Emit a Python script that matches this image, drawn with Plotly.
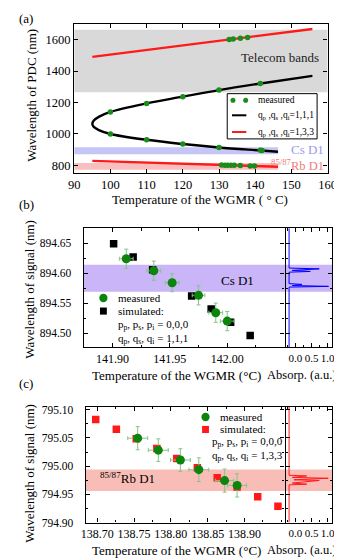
import plotly.graph_objects as go

W, H = 342, 558
FONT = "Liberation Serif"


def px(x):
    return x / W


def py(y):
    return 1 - y / H


# ---------------- Panel (a) data ----------------
curve_T = [146.3, 141.5, 130, 120, 110, 100, 96.8, 95.4, 95.0, 95.4, 96.9, 100, 110, 120, 130, 141.5, 155.8]
curve_wl = [887, 895, 914, 936, 963, 1000, 1025, 1045, 1063, 1085, 1110, 1140, 1194, 1237, 1279, 1321, 1369]
red_up_T = [95, 155.8]
red_up_wl = [1490, 1667]
red_lo_T = [95, 146.3]
red_lo_wl = [829, 792]
meas_a_T = [100, 100, 110, 110, 120, 120, 130, 130, 141.4, 141.4, 141.9,
            132.8, 133.9, 135.9, 137.9,
            130.7, 131.6, 132.4, 133.3, 134.2, 135.9, 138.6, 139.8]
meas_a_wl = [1140, 1000, 1194, 963, 1237, 936, 1279, 914, 1321, 896, 895,
             1600, 1603, 1608, 1613,
             803, 802, 802, 801, 801, 799, 797, 797]
a_xticks = [90, 100, 110, 120, 130, 140, 150, 160]
a_yticks = [800, 1000, 1200, 1400, 1600]
band_names = ["telecom", "cs", "rb"]
band_T0 = [90, 90, 90]
band_T1 = [160, 146.3, 146.3]
band_lo = [1265, 872, 773]
band_hi = [1662, 916, 816]
band_cols = ["#d9d9d9", "#c6c6f6", "#f9bebe"]

# ---------------- Panel (b) data ----------------
b_meas_T = [141.912, 141.936, 141.952, 141.975, 141.990, 142.000]
b_meas_wl = [894.624, 894.604, 894.584, 894.563, 894.534, 894.520]
b_err_T = [0.006, 0.006, 0.006, 0.0055, 0.006, 0.006]
b_err_wl = [0.016, 0.016, 0.015, 0.016, 0.016, 0.016]
b_sim_T = [141.901, 141.918, 141.935, 141.969, 141.986, 142.003, 142.020]
b_sim_wl = [894.649, 894.627, 894.6055, 894.562, 894.540, 894.518, 894.496]
b_xticks = [141.90, 141.95, 142.00]
b_yticks = [894.50, 894.55, 894.60, 894.65]
b_band = [894.569, 894.614]
b_abs_wl = [894.475, 894.5767, 894.5779, 894.5793, 894.5812, 894.5825,
            894.6016, 894.6028, 894.6045, 894.6071, 894.6084, 894.675]
b_abs_val = [-0.2, -0.2, 1.03, -0.1, 0.2, -0.2,
             -0.2, 0.46, -0.1, 0.74, -0.2, -0.2]

# ---------------- Panel (c) data ----------------
c_meas_T = [138.755, 138.783, 138.813, 138.838, 138.873, 138.890]
c_meas_wl = [795.0495, 795.0283, 795.0108, 794.9937, 794.9744, 794.9659]
c_err_T = [0.0135, 0.0135, 0.0135, 0.0135, 0.0125, 0.013]
c_err_wl = [0.0205, 0.020, 0.020, 0.021, 0.0205, 0.0205]
c_sim_T = [138.698, 138.726, 138.753, 138.781, 138.808, 138.836, 138.863, 138.890, 138.918, 138.9455]
c_sim_wl = [795.0824, 795.0654, 795.0483, 795.0312, 795.0137, 794.9971, 794.9795, 794.963, 794.9459, 794.9288]
c_xticks = [138.70, 138.75, 138.80, 138.85, 138.90]
c_yticks = [794.90, 794.95, 795.00, 795.05, 795.10]
c_band = [794.956, 794.994]
c_abs_wl = [794.90, 794.9668, 794.968, 794.9700, 794.9746, 794.9758, 794.9785,
            794.9800, 794.9826, 794.9838, 795.105]
c_abs_val = [-0.2, -0.2, 0.35, -0.1, 0.74, -0.05, 1.02, -0.1, 0.35, -0.2, -0.2]
abs_ticks = [0.0, 0.5, 1.0]

GREEN = "#0b850b"
RED = "#ff1a1a"

fig = go.Figure()

# ---- Panel a traces
fig.add_trace(go.Scatter(x=curve_T, y=curve_wl, mode="lines",
                         line=dict(color="black", width=2.4, shape="spline", smoothing=1.0),
                         xaxis="x", yaxis="y", showlegend=False))
fig.add_trace(go.Scatter(x=red_up_T, y=red_up_wl, mode="lines", line=dict(color=RED, width=2.4),
                         xaxis="x", yaxis="y", showlegend=False))
fig.add_trace(go.Scatter(x=red_lo_T, y=red_lo_wl, mode="lines", line=dict(color=RED, width=2.4),
                         xaxis="x", yaxis="y", showlegend=False))
fig.add_trace(go.Scatter(x=meas_a_T, y=meas_a_wl, mode="markers", marker=dict(color="#1a8c1a", size=5.5),
                         xaxis="x", yaxis="y", showlegend=False))

# ---- Panel b traces
fig.add_trace(go.Scatter(x=b_sim_T, y=b_sim_wl, mode="markers",
                         marker=dict(color="black", size=7.5, symbol="square"),
                         xaxis="x2", yaxis="y2", showlegend=False))
fig.add_trace(go.Scatter(x=b_meas_T, y=b_meas_wl, mode="markers", marker=dict(color=GREEN, size=9),
                         error_x=dict(type="data", array=b_err_T, color="#86c486", thickness=1, width=2),
                         error_y=dict(type="data", array=b_err_wl, color="#86c486", thickness=1, width=2),
                         xaxis="x2", yaxis="y2", showlegend=False))
fig.add_trace(go.Scatter(x=b_abs_val, y=b_abs_wl, mode="lines", line=dict(color="#0000ff", width=1),
                         xaxis="x3", yaxis="y3", showlegend=False))

# ---- Panel c traces
fig.add_trace(go.Scatter(x=c_sim_T, y=c_sim_wl, mode="markers",
                         marker=dict(color=RED, size=7.5, symbol="square"),
                         xaxis="x4", yaxis="y4", showlegend=False))
fig.add_trace(go.Scatter(x=c_meas_T, y=c_meas_wl, mode="markers", marker=dict(color=GREEN, size=9),
                         error_x=dict(type="data", array=c_err_T, color="#86c486", thickness=1, width=2),
                         error_y=dict(type="data", array=c_err_wl, color="#86c486", thickness=1, width=2),
                         xaxis="x4", yaxis="y4", showlegend=False))
fig.add_trace(go.Scatter(x=c_abs_val, y=c_abs_wl, mode="lines", line=dict(color=RED, width=1),
                         xaxis="x5", yaxis="y5", showlegend=False))


def axis(domain, rng, anchor, ticks_list, fmt, size=12, **kw):
    d = dict(domain=domain, range=rng, anchor=anchor, showline=True, linecolor="black", linewidth=1.3,
             mirror="ticks", ticks="inside", ticklen=4, tickwidth=1, tickcolor="black",
             showgrid=False, zeroline=False, tickangle=0,
             tickmode="array", tickvals=ticks_list, ticktext=[fmt.format(v) for v in ticks_list],
             tickfont=dict(family=FONT, size=size, color="black"))
    d.update(kw)
    return d


def minor(dt, t0):
    return dict(tickmode="linear", dtick=dt, tick0=t0, ticks="inside", ticklen=2.5, tickwidth=1,
                tickcolor="black", showgrid=False)


ya_dom = [py(165), py(13)]
yb_dom = [py(342), py(220.7)]
yc_dom = [py(520), py(402.3)]

layout = dict(
    width=W, height=H, margin=dict(l=0, r=0, t=0, b=0),
    paper_bgcolor="white", plot_bgcolor="white",
    font=dict(family=FONT, color="black"),
    xaxis=axis([px(63), px(328)], [90, 160], "y", a_xticks, "{:d}", size=12.5),
    yaxis=axis(ya_dom, [750, 1700], "x", a_yticks, "{:d}", size=12.5),
    xaxis2=axis([px(73), px(283)], [141.875, 142.05], "y2", b_xticks, "{:.2f}",
                minor=minor(0.025, 141.9)),
    yaxis2=axis(yb_dom, [894.476, 894.675], "x2", b_yticks, "{:.2f}", size=11.5,
                minor=minor(0.025, 894.5), ticklabelstandoff=9),
    xaxis3=axis([px(284), px(333)], [-0.31, 1.15], "y3", abs_ticks, "{:.1f}", size=11,
                minor=minor(0.25, 0)),
    yaxis3=axis(yb_dom, [894.476, 894.675], "x3", b_yticks, "{:.2f}", showticklabels=False,
                minor=minor(0.025, 894.5)),
    xaxis4=axis([px(75), px(283)], [138.6844, 138.9545], "y4", c_xticks, "{:.2f}",
                minor=minor(0.025, 138.7)),
    yaxis4=axis(yc_dom, [794.90, 795.105], "x4", c_yticks, "{:.2f}", size=11.5,
                minor=minor(0.025, 794.9), ticklabelstandoff=9),
    xaxis5=axis([px(284), px(333)], [-0.31, 1.15], "y5", abs_ticks, "{:.1f}", size=11,
                minor=minor(0.25, 0)),
    yaxis5=axis(yc_dom, [794.90, 795.105], "x5", c_yticks, "{:.2f}", showticklabels=False,
                minor=minor(0.025, 794.9)),
)

shapes = []
for i, name in enumerate(band_names):
    shapes.append(dict(type="rect", xref="x", yref="y", x0=band_T0[i], x1=band_T1[i],
                       y0=band_lo[i], y1=band_hi[i],
                       fillcolor=band_cols[i], line=dict(width=0), layer="below"))
shapes.append(dict(type="rect", xref="paper", yref="y2", x0=px(73), x1=px(333), y0=b_band[0], y1=b_band[1],
                   fillcolor="#c9b5f7", line=dict(width=0), layer="below"))
shapes.append(dict(type="rect", xref="paper", yref="y4", x0=px(75), x1=px(333), y0=c_band[0], y1=c_band[1],
                   fillcolor="#f9bdb8", line=dict(width=0), layer="below"))

# legend box panel a
shapes.append(dict(type="rect", xref="paper", yref="paper", x0=px(223), x1=px(317), y0=py(130), y1=py(84),
                   fillcolor="white", line=dict(color="black", width=1), layer="above"))


def dot(cx, cy, r, col, sym="circle"):
    return dict(type="circle" if sym == "circle" else "rect", xref="paper", yref="paper",
                x0=px(cx - r), x1=px(cx + r), y0=py(cy + r), y1=py(cy - r),
                fillcolor=col, line=dict(width=0), layer="above")


shapes.append(dot(229, 90.7, 2.6, "#1a8c1a"))
shapes.append(dot(242.3, 90.7, 2.6, "#1a8c1a"))
shapes.append(dict(type="line", xref="paper", yref="paper", x0=px(228), x1=px(243), y0=py(106), y1=py(106),
                   line=dict(color="black", width=2), layer="above"))
shapes.append(dict(type="line", xref="paper", yref="paper", x0=px(228), x1=px(243), y0=py(123), y1=py(123),
                   line=dict(color=RED, width=2), layer="above"))
# legend b
shapes.append(dot(93.5, 291.7, 4.3, GREEN))
shapes.append(dot(93.5, 305, 3.6, "black", "sq"))
# legend c
shapes.append(dot(200.3, 412.7, 4.3, GREEN))
shapes.append(dot(200.3, 425.3, 3.6, RED, "sq"))

ann = []


def text(t, x, y, size=13, color="black", xanchor="center", angle=0):
    ann.append(dict(text=t, x=px(x), y=py(y), xref="paper", yref="paper", showarrow=False,
                    xanchor=xanchor, yanchor="middle", textangle=angle,
                    font=dict(family=FONT, size=size, color=color)))


text("(a)", 3, 8, xanchor="left")
text("(b)", 3, 197, xanchor="left")
text("(c)", 3, 379, xanchor="left")
text("Wavelength of PDC (nm)", 18, 86, angle=-90)
text("Temperature of the WGMR ( ° C)", 195, 192)
text("Wavelength of signal (nm)", 16, 283, angle=-90)
text("Temperature of the WGMR (°C)", 170, 370)
text("Absorp. (a.u.)", 301, 370, size=12.5)
text("Wavelength of signal (nm)", 16, 470, angle=-90)
text("Temperature of the WGMR (°C)", 170, 548)
text("Absorp. (a.u.)", 301, 548, size=12.5)

text("Telecom bands", 278, 47, size=13, color="#222222")
text("Cs D1", 326, 141, size=13, color="#9a9aee", xanchor="right")
text("<sup>85/87</sup>Rb D1", 326, 157, size=12.5, color="#f07c7c", xanchor="right")
text("Cs D1", 234, 274, size=13)
text("<sup>85/87</sup>Rb D1", 88, 475, size=13, xanchor="left")

text("measured", 253, 90.7, size=9.5, xanchor="left")
text("q<sub>p</sub> ,q<sub>s</sub> ,q<sub>i</sub>=1,1,1", 253, 106, size=9.5, xanchor="left")
text("q<sub>p</sub> ,q<sub>s</sub> ,q<sub>i</sub>=1,3,3", 253, 123, size=9.5, xanchor="left")

text("measured", 107, 291.7, size=11, xanchor="left")
text("simulated:", 107, 305, size=11, xanchor="left")
text("p<sub>p</sub>, p<sub>s</sub>, p<sub>i</sub> = 0,0,0", 107, 319, size=11, xanchor="left")
text("q<sub>p</sub>, q<sub>s</sub>, q<sub>i</sub> = 1,1,1", 107, 333, size=11, xanchor="left")

text("measured", 213.7, 412.7, size=11, xanchor="left")
text("simulated:", 213.7, 425.3, size=11, xanchor="left")
text("p<sub>p</sub>, p<sub>s</sub>, p<sub>i</sub> = 0,0,0", 205, 438, size=11, xanchor="left")
text("q<sub>p</sub>, q<sub>s</sub>, q<sub>i</sub> = 1,3,3", 205, 452, size=11, xanchor="left")

layout["shapes"] = shapes
layout["annotations"] = ann
fig.update_layout(**layout)
fig.write_html("out.html")
